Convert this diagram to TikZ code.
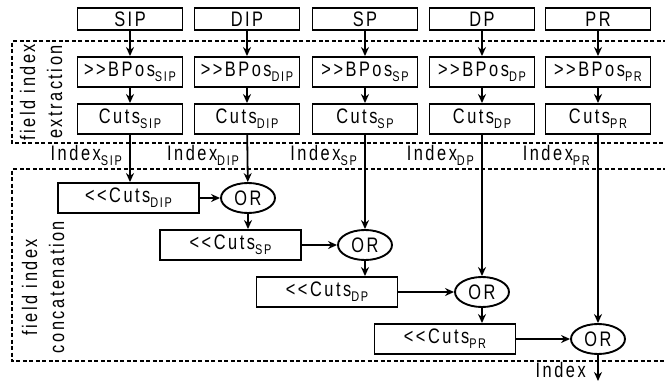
\documentclass[tikz,border=0pt]{standalone}
\usepackage{fontspec}
\setmainfont{Liberation Sans}[Ligatures=TeXOff, FakeStretch=0.78, LetterSpace=12]
\usetikzlibrary{arrows.meta,shapes.geometric}
\newcommand\lowsub[1]{\raisebox{-0.45ex}{\fontsize{14}{15}\selectfont #1}}
\tikzset{
  every node/.style={font=\fontsize{21}{23}\selectfont, inner sep=0pt},
  blk/.style={draw, line width=1.9pt, minimum width=105pt, minimum height=30pt},
  topblk/.style={blk, minimum height=22pt},
  shiftblk/.style={blk, minimum width=141pt},
  orop/.style={draw, ellipse, line width=1.9pt, minimum width=54pt, minimum height=30pt},
  flow/.style={line width=1.8pt, -{Stealth[length=9pt,width=8pt]}},
  region/.style={line width=1.8pt, dash pattern=on 4pt off 2.5pt},
  idx/.style={anchor=east},
}
\begin{document}
\begin{tikzpicture}[x=1pt,y=-1pt]
\useasboundingbox (0,0) rectangle (665,381);
\clip (0,0) rectangle (665,381);

% dashed region outlines (open to the right)
\draw[region] (680,41) -- (12,41) -- (12,143) -- (680,143);
\draw[region] (680,169) -- (12,169) -- (12,361) -- (680,361);

\node[rotate=90, align=center] (lblA) at (41,92) {field index\\[4pt]extraction};
\node[rotate=90, align=center] (lblB) at (43,287) {field index\\[4pt]concatenation};

% field columns
\foreach \n/\x/\t in {SIP/130/SIP, DIP/247/DIP, SP/365/SP, DP/482/DP, PR/598/PR}{
  \node[topblk] (f\n) at (\x,19) {\t};
  \node[blk] (b\n) at (\x,72) {>>BPos\lowsub{\t}};
  \node[blk] (c\n) at (\x,119) {Cuts\lowsub{\t}};
  \draw[flow] (f\n) -- (b\n);
  \draw[flow] (b\n) -- (c\n);
  \node[idx] (i\n) at (\x-8,155) {Index\lowsub{\t}};
}

% concatenation chain
\node[shiftblk] (sDIP) at (128.5,198) {<<Cuts\lowsub{DIP}};
\node[orop] (o1) at (248,198) {OR};
\node[shiftblk] (sSP) at (230.5,245) {<<Cuts\lowsub{SP}};
\node[orop] (o2) at (365,245) {OR};
\node[shiftblk] (sDP) at (327,292) {<<Cuts\lowsub{DP}};
\node[orop] (o3) at (482,292) {OR};
\node[shiftblk] (sPR) at (445,339) {<<Cuts\lowsub{PR}};
\node[orop] (o4) at (598,339) {OR};
\coordinate (out) at (598,381);
\node[anchor=east] (iout) at (586,370) {Index};

\draw[flow] (cSIP.south) -- (cSIP.south |- sDIP.north);
\draw[flow] (cDIP) -- (o1);
\draw[flow] (cSP) -- (o2);
\draw[flow] (cDP) -- (o3);
\draw[flow] (cPR) -- (o4);

\draw[flow] (sDIP) -- (o1);
\draw[flow] (o1.south) -- (o1.south |- sSP.north);
\draw[flow] (sSP) -- (o2);
\draw[flow] (o2.south) -- (o2.south |- sDP.north);
\draw[flow] (sDP) -- (o3);
\draw[flow] (o3.south) -- (o3.south |- sPR.north);
\draw[flow] (sPR) -- (o4);
\draw[flow] (o4) -- (out);
\end{tikzpicture}
\end{document}
